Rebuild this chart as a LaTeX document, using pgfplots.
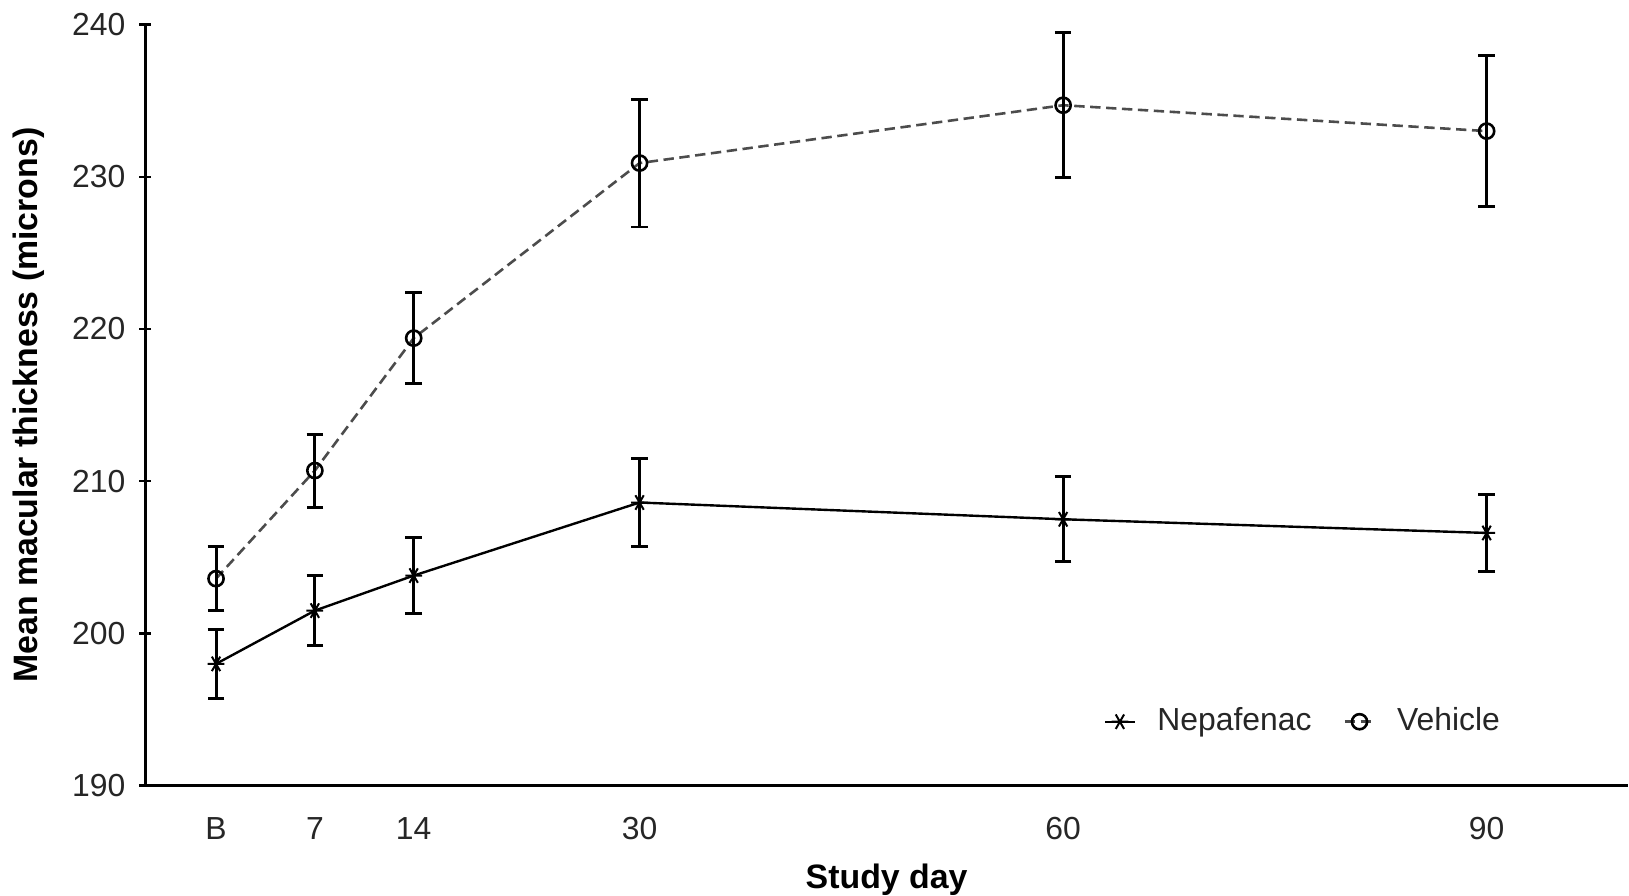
\documentclass[border=0pt]{standalone}
\usepackage{fontspec}
\setmainfont{Liberation Sans}
\usepackage{pgfplots}
\pgfplotsset{compat=1.18}
\begin{document}
\begin{tikzpicture}
\begin{axis}[
  scale only axis, width=372pt, height=191pt,
  xmin=-5, xmax=100, ymin=190, ymax=240,
  axis x line=bottom, axis y line=left,
  axis line style={-, line width=0.6pt, black},
  xtick={0,7,14,30,60,90}, xticklabels={B,7,14,30,60,90},
  ytick={190,200,...,240},
  /pgf/number format/assume math mode=true,
  tick label style={font=\fontsize{8}{9}\selectfont, text=black!85},
  x tick style={draw=none},
  y tick style={line width=0.6pt, black},
  tick align=center, major tick length=3pt,
  xticklabel style={yshift=-3pt},
  xlabel={Study day}, ylabel={Mean macular thickness (microns)},
  label style={font=\fontsize{8.5}{10}\selectfont\bfseries},
  xlabel style={yshift=-2.5pt, inner sep=0pt},
  legend columns=2,
  legend style={draw=none, fill=none, at={(axis cs:77.2,194.2)}, anchor=center,
    font=\fontsize{8}{9}\selectfont, text=black!85,
    /tikz/every even column/.append style={column sep=6pt}},
  legend image code/.code={\draw[mark repeat=2,mark phase=2] plot coordinates {(-0.1cm,0cm) (0.03cm,0cm) (0.16cm,0cm)};\path (0.28cm,0cm);},
  error bars/error bar style={line width=0.75pt, black, solid},
  error bars/error mark options={rotate=90, mark size=2.1pt, line width=0.75pt, black, solid},
]
\addplot[black, line width=0.6pt, mark=asterisk, mark size=2.1pt, mark options={rotate=90, solid, line width=0.5pt},
  error bars/.cd, y dir=both, y explicit]
  coordinates {
  (0,198.0) +- (0,2.25)
  (7,201.5) +- (0,2.3)
  (14,203.8) +- (0,2.5)
  (30,208.6) +- (0,2.9)
  (60,207.5) +- (0,2.8)
  (90,206.6) +- (0,2.5)
  };
\addlegendentry{Nepafenac}
\addplot[black!70, line width=0.65pt, dash pattern=on 2.6pt off 1.4pt, mark=o, mark size=1.9pt, mark options={solid, black},
  error bars/.cd, y dir=both, y explicit]
  coordinates {
  (0,203.6) +- (0,2.1)
  (7,210.7) +- (0,2.4)
  (14,219.4) +- (0,3.0)
  (30,230.9) +- (0,4.2)
  (60,234.7) +- (0,4.75)
  (90,233.0) +- (0,4.95)
  };
\addlegendentry{Vehicle}
\end{axis}
\end{tikzpicture}
\end{document}
